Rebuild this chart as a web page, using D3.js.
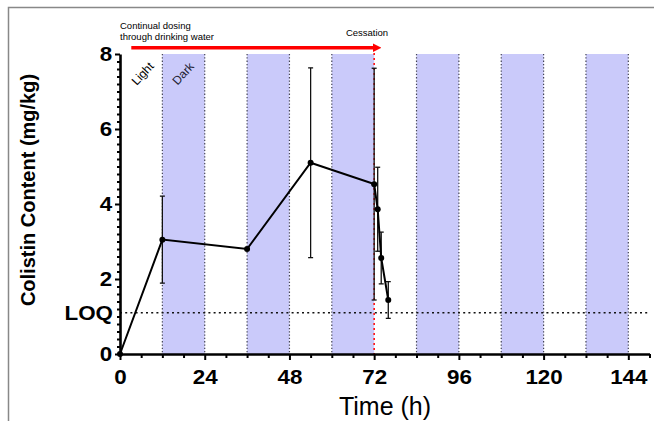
<!DOCTYPE html>
<html>
<head>
<meta charset="utf-8">
<script src="https://cdn.jsdelivr.net/npm/d3@7"></script>
<style>
  body { margin: 0; background: #fff; }
  svg { display: block; font-family: "Liberation Sans", Arial, sans-serif; }
</style>
</head>
<body>
<div class="container"></div>
<script>
// sampling times (h), mean colistin content (mg/kg) and SD
const times = [0, 12, 36, 54, 72, 73, 74, 76];
const means = [0, 3.05, 2.8, 5.1, 4.53, 3.86, 2.56, 1.44];
const sds = [0, 1.16, 0, 2.53, 3.09, 1.12, 0.69, 0.49];

// dark periods (h)
const darkStarts = [12, 36, 60, 84, 108, 132];
const darkLength = 12;

const xTicks = [0, 24, 48, 72, 96, 120, 144];
const yTicks = [0, 2, 4, 6, 8];
const loq = 1.1;
const cessation = 72;

const w = 654;
const h = 421;

const svg = d3.select(".container")
              .append("svg")
              .attr("width", w)
              .attr("height", h);

const xScale = d3.scaleLinear().domain([0, 150]).range([120, 649.5]);
const yScale = d3.scaleLinear().domain([0, 8]).range([354, 54]);

// frame
svg.append("path")
   .attr("d", "M8.5,421 V7.5 H654")
   .attr("fill", "none")
   .attr("stroke", "#888")
   .attr("stroke-width", 1.5);

// dark bands
const bands = svg.append("g");
darkStarts.forEach(s => {
    bands.append("rect")
         .attr("x", xScale(s))
         .attr("y", yScale(8))
         .attr("width", xScale(s + darkLength) - xScale(s))
         .attr("height", yScale(0) - yScale(8))
         .attr("fill", "#cacafa");
    [s, s + darkLength].forEach(e => {
        if (e === cessation) return;
        bands.append("line")
             .attr("x1", xScale(e)).attr("x2", xScale(e))
             .attr("y1", yScale(8)).attr("y2", yScale(0))
             .attr("stroke", "#445")
             .attr("stroke-width", 1.2)
             .attr("stroke-dasharray", "1.3,2");
    });
});

// LOQ line
svg.append("line")
   .attr("x1", xScale(0)).attr("x2", xScale(150))
   .attr("y1", yScale(loq)).attr("y2", yScale(loq))
   .attr("stroke", "#111")
   .attr("stroke-width", 1.6)
   .attr("stroke-dasharray", "2,3.2");

svg.append("text")
   .attr("transform", "translate(113," + yScale(loq) + ") scale(1.12,1)")
   .attr("dy", "0.36em")
   .attr("text-anchor", "end")
   .attr("font-size", 20).attr("font-weight", "bold")
   .text("LOQ");

// cessation line
svg.append("line")
   .attr("x1", xScale(cessation)).attr("x2", xScale(cessation))
   .attr("y1", 48).attr("y2", yScale(0))
   .attr("stroke", "#f00")
   .attr("stroke-width", 1.5)
   .attr("stroke-dasharray", "2,3");

// dosing arrow
svg.append("defs").append("marker")
   .attr("id", "arrow")
   .attr("viewBox", "0 0 10 10")
   .attr("refX", 1).attr("refY", 5)
   .attr("markerWidth", 2.6).attr("markerHeight", 2.6)
   .attr("markerUnits", "strokeWidth")
   .attr("orient", "auto")
   .append("path")
   .attr("d", "M0,0 L10,5 L0,10 Z")
   .attr("fill", "#f00");

svg.append("line")
   .attr("x1", xScale(3.2)).attr("x2", xScale(71.8))
   .attr("y1", 47.7).attr("y2", 47.7)
   .attr("stroke", "#f00")
   .attr("stroke-width", 3.4)
   .attr("marker-end", "url(#arrow)");

svg.append("text")
   .attr("x", 120).attr("y", 29)
   .attr("font-size", 9.5)
   .text("Continual dosing");
svg.append("text")
   .attr("x", 120).attr("y", 39.5)
   .attr("font-size", 9.5)
   .text("through drinking water");
svg.append("text")
   .attr("x", 367).attr("y", 35.5)
   .attr("text-anchor", "middle")
   .attr("font-size", 9.5)
   .text("Cessation");

svg.append("text")
   .attr("transform", "translate(142.5,73.5) rotate(-47)")
   .attr("text-anchor", "middle")
   .attr("dy", "0.35em")
   .attr("font-size", 12)
   .text("Light");
svg.append("text")
   .attr("transform", "translate(183,73.5) rotate(-47)")
   .attr("text-anchor", "middle")
   .attr("dy", "0.35em")
   .attr("font-size", 12)
   .attr("fill", "#223")
   .text("Dark");

// error bars
const errG = svg.append("g").attr("stroke", "#111").attr("stroke-width", 1.3);
times.forEach((t, i) => {
    if (sds[i] === 0) return;
    const x = xScale(t);
    const top = yScale(means[i] + sds[i]);
    const bot = yScale(means[i] - sds[i]);
    errG.append("line").attr("x1", x).attr("x2", x).attr("y1", top).attr("y2", bot);
    errG.append("line").attr("x1", x - 2.5).attr("x2", x + 2.5).attr("y1", top).attr("y2", top);
    errG.append("line").attr("x1", x - 2.5).attr("x2", x + 2.5).attr("y1", bot).attr("y2", bot);
});

// mean line
const line = d3.line()
               .x((d, i) => xScale(times[i]))
               .y((d, i) => yScale(means[i]));

svg.append("path")
   .datum(means)
   .attr("d", line)
   .attr("fill", "none")
   .attr("stroke", "#000")
   .attr("stroke-width", 2);

svg.selectAll("circle")
   .data(means)
   .enter()
   .append("circle")
   .attr("cx", (d, i) => xScale(times[i]))
   .attr("cy", d => yScale(d))
   .attr("r", 3)
   .attr("fill", "#000");

// axes
const xMinor = d3.range(0, 151, 6).filter(v => v % 24 !== 0);
const yMinor = d3.range(0, 41).map(v => v / 5).filter(v => Math.abs(v - Math.round(v / 2) * 2) > 1e-6);

const xAxis = d3.axisBottom(xScale)
                .tickValues(xTicks)
                .tickSize(6)
                .tickSizeOuter(0)
                .tickPadding(10);
const gx = svg.append("g")
              .attr("transform", "translate(0," + yScale(0) + ")")
              .call(xAxis);
gx.append("g").call(d3.axisBottom(xScale).tickValues(xMinor).tickSize(4).tickFormat(""))
  .select(".domain").remove();

const yAxis = d3.axisLeft(yScale)
                .tickValues(yTicks)
                .tickSize(5)
                .tickSizeOuter(0)
                .tickPadding(2);
const gy = svg.append("g")
              .attr("transform", "translate(" + xScale(0) + ",0)")
              .call(yAxis);
gy.append("g").call(d3.axisLeft(yScale).tickValues(yMinor).tickSize(3).tickFormat(""))
  .select(".domain").remove();

[gx, gy].forEach(g => {
    g.selectAll(".domain").attr("stroke", "#000").attr("stroke-width", 2.6);
    g.selectAll(".tick line").attr("stroke", "#000").attr("stroke-width", 2);
    g.selectAll(".tick text")
     .attr("fill", "#000")
     .attr("font-size", 20)
     .attr("font-weight", "bold")
     .attr("transform", "scale(1.12,1)")
     .attr("font-family", "'Liberation Sans', Arial, sans-serif");
});
gy.selectAll(".tick text").attr("dy", "0.3em");

svg.append("text")
   .attr("x", 385).attr("y", 415)
   .attr("text-anchor", "middle")
   .attr("font-size", 25)
   .text("Time (h)");

svg.append("text")
   .attr("transform", "translate(35,190) rotate(-90)")
   .attr("text-anchor", "middle")
   .attr("font-size", 20)
   .attr("font-weight", "bold")
   .text("Colistin Content (mg/kg)");
</script>
</body>
</html>
